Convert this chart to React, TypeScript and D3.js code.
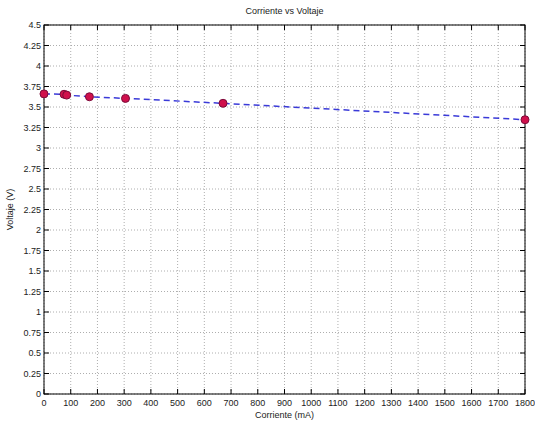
import React from "react";
import * as d3 from "d3";

const corriente = [0, 75, 85, 170, 305, 670, 1800];
const voltaje = [3.66, 3.655, 3.645, 3.625, 3.605, 3.545, 3.345];
const xTicks = d3.range(0, 1801, 100);
const yTicks = d3.range(0, 4.51, 0.25);

export default function App() {
  const W = 535, H = 426;
  const m = { l: 44, r: 10, t: 25, b: 32 };
  const x = d3.scaleLinear().domain([0, 1800]).range([m.l, W - m.r]);
  const y = d3.scaleLinear().domain([0, 4.5]).range([H - m.b, m.t]);
  const pts = corriente.map((c, i) => [c, voltaje[i]] as [number, number]);
  const line = d3.line<[number, number]>().x(d => x(d[0])).y(d => y(d[1]));
  const font = "Liberation Sans, Arial, sans-serif";
  const fmt = (v: number) => String(+v.toFixed(2));
  return (
    <svg width={W} height={H} style={{ position: "absolute", left: 0, top: 0, background: "#fff" }} fontFamily={font}>
      <rect x={0} y={0} width={W} height={H} fill="#fff" />
      {xTicks.map(t => (
        <line key={"gx" + t} x1={x(t)} x2={x(t)} y1={y(0)} y2={y(4.5)} stroke="#999" strokeDasharray="1,2" strokeWidth={0.8} />
      ))}
      {yTicks.map(t => (
        <line key={"gy" + t} x1={x(0)} x2={x(1800)} y1={y(t)} y2={y(t)} stroke="#999" strokeDasharray="1,2" strokeWidth={0.8} />
      ))}
      {xTicks.map(t => (
        <g key={"tx" + t}>
          <line x1={x(t)} x2={x(t)} y1={y(0)} y2={y(0) - 5} stroke="#000" />
          <line x1={x(t)} x2={x(t)} y1={y(4.5)} y2={y(4.5) + 5} stroke="#000" />
          <text x={x(t)} y={y(0) + 12} fontSize={9} textAnchor="middle" fill="#222">{t}</text>
        </g>
      ))}
      {yTicks.map(t => (
        <g key={"ty" + t}>
          <line x1={x(0)} x2={x(0) + 5} y1={y(t)} y2={y(t)} stroke="#000" />
          <line x1={x(1800)} x2={x(1800) - 5} y1={y(t)} y2={y(t)} stroke="#000" />
          <text x={x(0) - 3} y={y(t) + 3} fontSize={9} textAnchor="end" fill="#222">{fmt(t)}</text>
        </g>
      ))}
      <rect x={x(0)} y={y(4.5)} width={x(1800) - x(0)} height={y(0) - y(4.5)} fill="none" stroke="#000" strokeWidth={1} />
      <path d={line(pts) || ""} fill="none" stroke="#3a3ad8" strokeWidth={1.5} strokeDasharray="6,4" />
      {pts.map((p, i) => (
        <circle key={i} cx={x(p[0])} cy={y(p[1])} r={4} fill="#d0104c" stroke="#7a0a3a" strokeWidth={1} />
      ))}
      <text x={(x(0) + x(1800)) / 2} y={14} fontSize={9} textAnchor="middle" fill="#222">Corriente vs Voltaje</text>
      <text x={(x(0) + x(1800)) / 2} y={H - 8} fontSize={9} textAnchor="middle" fill="#222">Corriente (mA)</text>
      <text transform={`translate(13,${(y(0) + y(4.5)) / 2}) rotate(-90)`} fontSize={9} textAnchor="middle" fill="#222">Voltaje (V)</text>
    </svg>
  );
}
